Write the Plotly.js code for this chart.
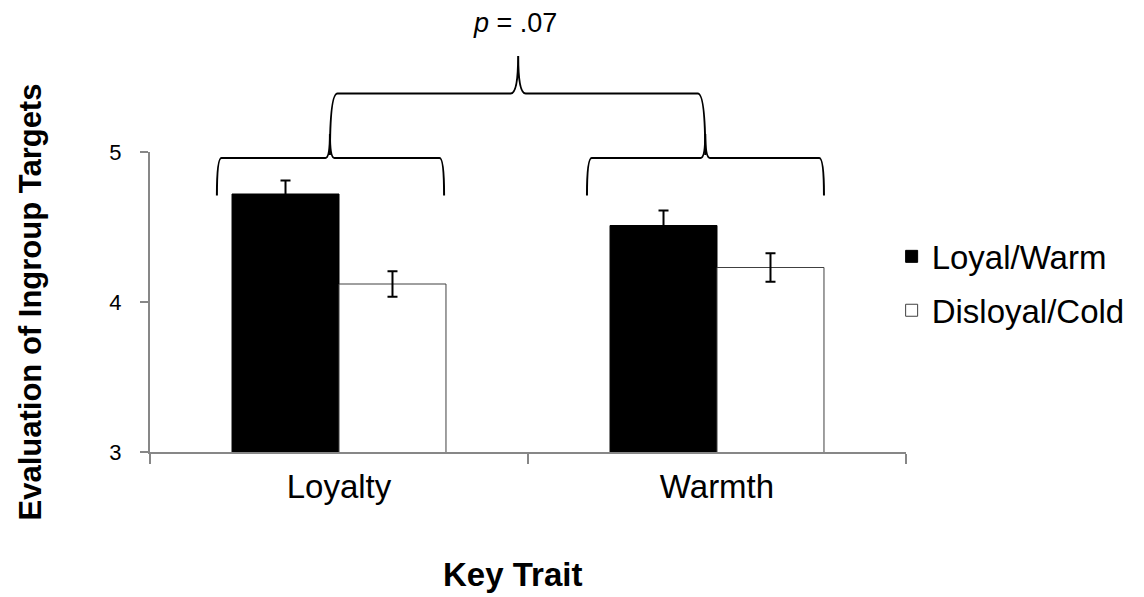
<!DOCTYPE html>
<html>
<head>
<meta charset="utf-8">
<script src="https://cdn.plot.ly/plotly-3.0.1.min.js"></script>
<style>html,body{margin:0;padding:0;background:#fff;}#chart{width:1144px;height:597px;}</style>
</head>
<body>
<div id="chart"></div>
<script>
// ---- data ----
var categories = ["Loyalty", "Warmth"];
var seriesNames = ["Loyal/Warm", "Disloyal/Cold"];
var loyalWarm = [4.72, 4.51];
var loyalWarmErr = [0.09, 0.10];
var disloyalCold = [4.12, 4.23];
var disloyalColdErr = [0.085, 0.095];
var yTicks = [3, 4, 5];
var xTitle = "Key Trait";
var yTitle = "Evaluation of Ingroup Targets";
var pLabel = "<i>p</i> = .07";

var yRange = [3, 5];
function py(v) { return (v - yRange[0]) / (yRange[1] - yRange[0]); }

var FONT = "Liberation Sans, Arial, sans-serif";
var fills = ["#000000", "#ffffff"];
var edges = ["#000000", "#404040"];

var traces = [
  {
    type: "bar", name: seriesNames[0], x: categories, y: loyalWarm,
    marker: {color: fills[0], line: {color: edges[0], width: 1}},
    error_y: {type: "data", array: loyalWarmErr, visible: true, color: "#000000", thickness: 2, width: 5},
    legendgroup: "a"
  },
  {
    type: "bar", name: seriesNames[1], x: categories, y: disloyalCold,
    marker: {color: fills[1], line: {color: edges[1], width: 1}},
    error_y: {type: "data", array: disloyalColdErr, visible: true, color: "#000000", thickness: 2, width: 5},
    legendgroup: "b"
  }
];

// braces (annotation shapes), x in category units, y converted to paper
function brace(x0, x1, xc, yEnd, yH, yTip) {
  var a = py(yEnd), h = py(yH), t = py(yTip);
  var dx = (x1 - x0) * 0.02;
  return "M" + x0 + "," + a +
    " Q" + x0 + "," + h + " " + (x0 + dx) + "," + h +
    " L" + (xc - dx) + "," + h +
    " Q" + xc + "," + h + " " + xc + "," + t +
    " Q" + xc + "," + h + " " + (xc + dx) + "," + h +
    " L" + (x1 - dx) + "," + h +
    " Q" + x1 + "," + h + " " + x1 + "," + a;
}
var braceLine = {color: "#000000", width: 2};
var shapes = [
  {type: "path", xref: "x", yref: "paper", path: brace(-0.323, 0.278, -0.024, 4.71, 4.96, 5.12), line: braceLine},
  {type: "path", xref: "x", yref: "paper", path: brace(0.656, 1.283, 0.969, 4.71, 4.96, 5.12), line: braceLine},
  {type: "path", xref: "x", yref: "paper", path: brace(-0.024, 0.969, 0.474, 4.98, 5.39, 5.64), line: braceLine}
];

var layout = {
  width: 1144, height: 597,
  margin: {l: 150, r: 238, t: 152, b: 145},
  paper_bgcolor: "#ffffff", plot_bgcolor: "#ffffff",
  font: {family: FONT, color: "#000000"},
  barmode: "group", bargap: 0.434, bargroupgap: 0,
  showlegend: true,
  legend: {x: 0.981, xanchor: "left", y: 0.562, yanchor: "middle",
           font: {family: FONT, size: 33, color: "#000000"},
           tracegroupgap: 8, itemwidth: 30, bgcolor: "rgba(0,0,0,0)"},
  xaxis: {
    type: "category", range: [-0.5, 1.5],
    showline: true, linecolor: "#878787", linewidth: 2,
    ticks: "outside", tickson: "boundaries", ticklen: 10, tickcolor: "#878787", tickwidth: 2,
    tickfont: {family: FONT, size: 33, color: "#000000"},
    ticklabelstandoff: 4,
    showgrid: false, zeroline: false
  },
  yaxis: {
    range: yRange, tickvals: yTicks, ticktext: yTicks.map(String),
    showline: true, linecolor: "#878787", linewidth: 2,
    ticks: "outside", ticklen: 8, tickcolor: "#878787", tickwidth: 2,
    tickfont: {family: FONT, size: 22, color: "#000000"},
    ticklabelstandoff: 14,
    showgrid: false, zeroline: false,
    title: {text: "<b>" + yTitle + "</b>", font: {family: FONT, size: 31, color: "#000000"}, standoff: 58}
  },
  shapes: shapes,
  annotations: [
    {text: pLabel, xref: "x", yref: "paper", x: 0.466, y: py(5.86), showarrow: false,
     font: {family: FONT, size: 27, color: "#000000"}, xanchor: "center", yanchor: "middle"},
    {text: "<b>" + xTitle + "</b>", xref: "paper", yref: "paper", x: 0.479, y: -0.408, showarrow: false,
     font: {family: FONT, size: 33, color: "#000000"}, xanchor: "center", yanchor: "middle"}
  ]
};

Plotly.newPlot("chart", traces, layout, {displayModeBar: false, staticPlot: true});
</script>
</body>
</html>
